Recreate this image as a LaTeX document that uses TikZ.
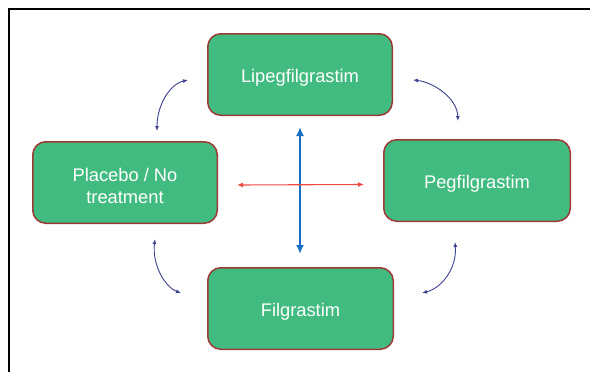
\documentclass[tikz,border=0pt]{standalone}
\usepackage{fontspec}
\setmainfont{Liberation Sans}
\usetikzlibrary{arrows.meta}
\definecolor{boxgreen}{HTML}{42BB80}
\definecolor{boxborder}{HTML}{9E3A36}
\definecolor{vblue}{HTML}{1A6FC4}
\definecolor{hred}{HTML}{EE4A45}
\definecolor{navy}{HTML}{3C4190}
\newcommand{\dropline}[1]{\raisebox{-3pt}[\height][\depth]{#1}}
\begin{document}
\begin{tikzpicture}[x=1pt,y=-1pt,
  drug/.style={draw=boxborder, fill=boxgreen, line width=1.5pt, rounded corners=13pt,
    minimum width=184.5pt, minimum height=81.5pt, text=white, align=center,
    font=\fontsize{18.3pt}{22pt}\selectfont, inner sep=0pt},
  cyc/.style={draw=navy, line width=0.9pt, {Latex[length=5pt,width=4pt]}-{Latex[length=5pt,width=4pt]}},
  vaxis/.style={draw=vblue, line width=2.8pt, {Latex[length=9pt,width=8pt]}-{Latex[length=9pt,width=8pt]}},
  haxis/.style={draw=hred, line width=1.1pt, {Latex[length=6pt,width=5pt]}-{Latex[length=6pt,width=5pt]}},
  frame/.style={draw=black, line width=2pt}]
\useasboundingbox (0,0) rectangle (590,372);
\coordinate (fb) at (9,373);
\coordinate (fc) at (9,9);
\coordinate (fr) at (591,9);
\draw[frame] (fb) -- (fc) -- (fr);

\node[drug] (lip) at (300,74.5) {\dropline{Lipegfilgrastim}};
\node[drug] (pla) at (125,182.5) {\dropline{Placebo / No}\\\dropline{treatment}};
\node[drug, minimum width=186.5pt] (peg) at (477,180.5) {\dropline{Pegfilgrastim}};
\node[drug, minimum width=185.5pt] (fil) at (300.5,308.5) {\dropline{Filgrastim}};

\coordinate (vt) at (300,127);
\coordinate (vb) at (300,254);
\draw[vaxis] (vt) -- (vb);
\coordinate (hl) at (237,185);
\coordinate (hr) at (364,184.5);
\draw[haxis] (hl) -- (hr);

\coordinate (tl1) at (157,131);
\coordinate (tl2) at (188,80);
\draw[cyc] (tl1) .. controls (157,105) and (170,84) .. (tl2);
\coordinate (tr1) at (413,80);
\coordinate (tr2) at (458,121);
\draw[cyc] (tr1) .. controls (432,82) and (457,97) .. (tr2);
\coordinate (bl1) at (155,239);
\coordinate (bl2) at (181,293);
\draw[cyc] (bl1) .. controls (152,265) and (165,287) .. (bl2);
\coordinate (br1) at (455,242);
\coordinate (br2) at (422,293);
\draw[cyc] (br1) .. controls (457,268) and (442,288) .. (br2);
\end{tikzpicture}
\end{document}
